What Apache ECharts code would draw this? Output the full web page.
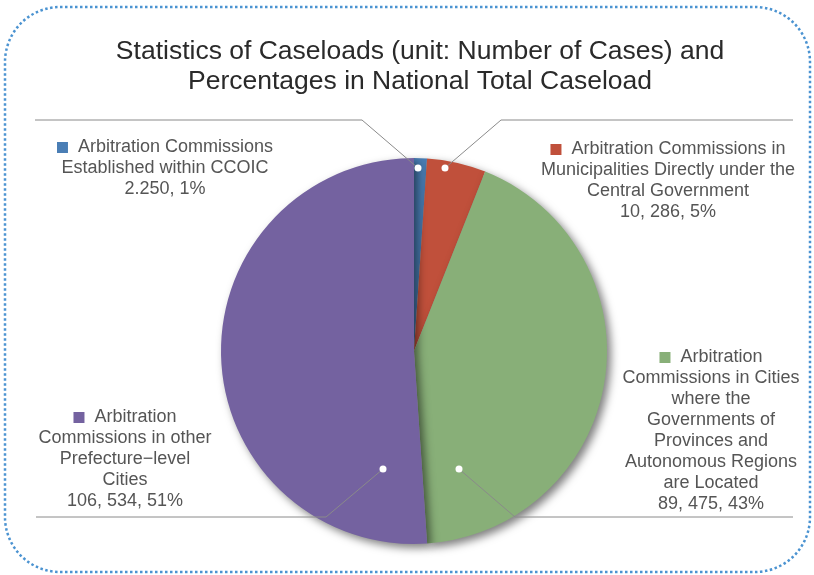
<!DOCTYPE html>
<html>
<head>
<meta charset="utf-8">
<script src="https://cdn.jsdelivr.net/npm/echarts@6/dist/echarts.min.js"></script>
<style>
  html, body { margin: 0; padding: 0; background: #fff; }
  #chart { width: 814px; height: 575px; }
</style>
</head>
<body>
<div id="chart"></div>
<script>
// 数据
const categories = [
  'Arbitration Commissions Established within CCOIC',
  'Arbitration Commissions in Municipalities Directly under the Central Government',
  'Arbitration Commissions in Cities where the Governments of Provinces and Autonomous Regions are Located',
  'Arbitration Commissions in other Prefecture-level Cities'
];
const caseloads = [2250, 10286, 89475, 106534];
const caseloadText = ['2.250', '10, 286', '89, 475', '106, 534'];
const wrappedNames = [
  ['Arbitration Commissions', 'Established within CCOIC'],
  ['Arbitration Commissions in', 'Municipalities Directly under the', 'Central Government'],
  ['Arbitration', 'Commissions in Cities', 'where the', 'Governments of', 'Provinces and', 'Autonomous Regions', 'are Located'],
  ['Arbitration', 'Commissions in other', 'Prefecture\u2212level', 'Cities']
];
const colors = ['#4a7eb5', '#c0503b', '#88af78', '#7462a0'];

// 标签位置 (label anchor + leader line: dot, bend, end)
const labelSpots = [
  { x: 165, y: 137, line: [[418, 168], [362, 120], [35, 120]] },
  { x: 668, y: 139, line: [[445, 168], [501, 120], [793, 120]] },
  { x: 711, y: 347, line: [[459, 469], [515, 517], [793, 517]] },
  { x: 125, y: 407, line: [[383, 469], [326, 517], [36, 517]] }
];

const chart = echarts.init(document.getElementById('chart'));

const leaderGraphics = [];
labelSpots.forEach(s => {
  leaderGraphics.push({
    type: 'polyline',
    shape: { points: s.line },
    style: { stroke: '#8a8a8a', lineWidth: 1, fill: 'none' },
    z: 99,
    silent: true
  });
  leaderGraphics.push({
    type: 'circle',
    shape: { cx: s.line[0][0], cy: s.line[0][1], r: 3.5 },
    style: { fill: '#fff' },
    z: 100,
    silent: true
  });
});

const option = {
  animation: false,
  title: {
    text: 'Statistics of Caseloads (unit: Number of Cases) and\nPercentages in National Total Caseload',
    left: 415,
    textAlign: 'center',
    top: 32,
    textStyle: {
      fontFamily: 'Liberation Sans',
      fontSize: 26.5,
      fontWeight: 'normal',
      color: '#2a2a2a',
      lineHeight: 30
    }
  },
  graphic: [
    {
      type: 'rect',
      shape: { x: 5, y: 7, width: 805, height: 565, r: 55 },
      style: { fill: 'none', stroke: '#4b93d1', lineWidth: 2.5, lineDash: [2.5, 2.5] },
      silent: true
    }
  ].concat(leaderGraphics),
  series: [
    {
      type: 'pie',
      center: [414, 351],
      radius: 193,
      startAngle: 90,
      clockwise: true,
      data: caseloads.map((v, i) => ({
        name: categories[i],
        value: v,
        itemStyle: { color: colors[i] }
      })),
      itemStyle: {
        shadowBlur: 9,
        shadowOffsetX: 4,
        shadowOffsetY: 4,
        shadowColor: 'rgba(0, 0, 0, 0.5)'
      },
      label: {
        show: true,
        fontFamily: 'Liberation Sans',
        fontSize: 18,
        color: '#555555',
        lineHeight: 21,
        align: 'center',
        overflow: 'none',
        formatter: params => {
          const i = params.dataIndex;
          const lines = wrappedNames[i].slice();
          lines[0] = '{sq' + i + '|}  ' + lines[0];
          lines.push(caseloadText[i] + ', ' + Math.round(params.percent) + '%');
          return lines.join('\n');
        },
        rich: Object.fromEntries(colors.map((c, i) => ['sq' + i, {
          width: 11, height: 11, backgroundColor: c
        }]))
      },
      labelLine: { show: false },
      labelLayout: params => {
        const s = labelSpots[params.dataIndex];
        return {
          x: s.x,
          y: s.y,
          width: 300,
          align: 'center',
          verticalAlign: 'top'
        };
      },
      emphasis: { disabled: true }
    }
  ]
};

chart.setOption(option);
window.addEventListener('resize', () => chart.resize());
</script>
</body>
</html>
